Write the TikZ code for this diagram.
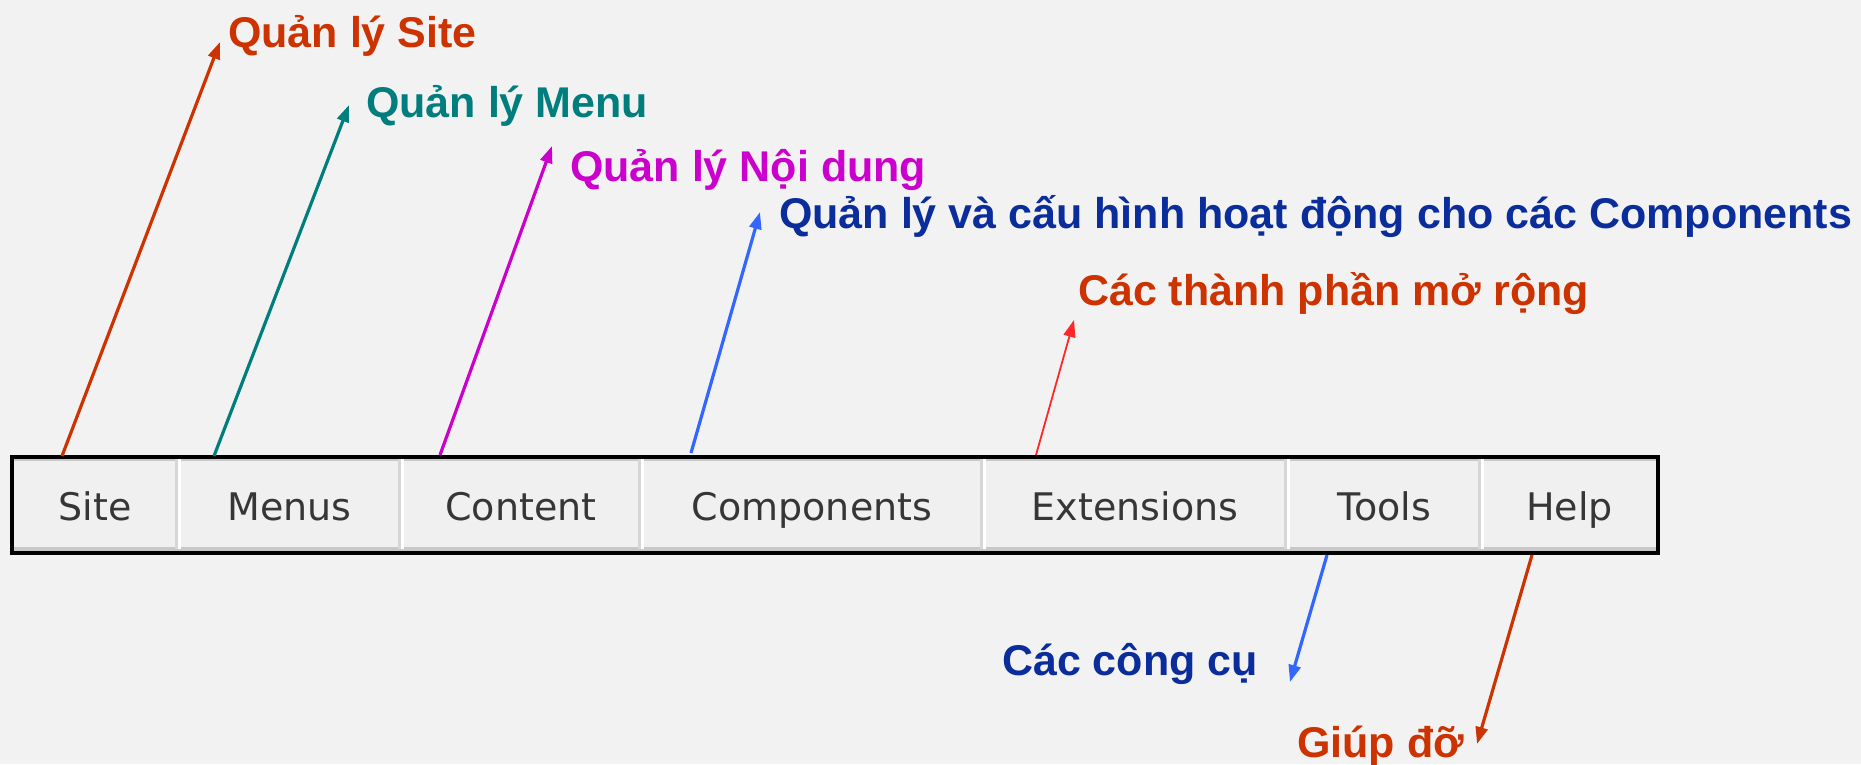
\documentclass[tikz,border=0pt]{standalone}
\usepackage{fontspec}
\usetikzlibrary{arrows.meta}
\newfontfamily\labfont{Liberation Sans}
\newfontfamily\menufont{DejaVu Sans}
\definecolor{bgc}{HTML}{F2F2F2}
\definecolor{cellc}{HTML}{F0F0F0}
\definecolor{bandc}{HTML}{C8C8C8}
\definecolor{sepc}{HTML}{D6D6D6}
\definecolor{menutxt}{HTML}{363636}
\definecolor{orred}{RGB}{204,51,0}
\definecolor{tealc}{RGB}{0,125,125}
\definecolor{magc}{RGB}{204,0,204}
\definecolor{dblue}{RGB}{10,45,155}
\definecolor{lblue}{RGB}{51,102,255}
\definecolor{redc}{RGB}{255,40,40}
\tikzset{
  cell/.style={inner sep=0, minimum height=96pt, text height=38pt, text depth=8pt,
    font=\menufont\fontsize{38}{44}\selectfont, text=menutxt},
  lab/.style={inner sep=0, anchor=base west, font=\labfont\bfseries\fontsize{43}{50}\selectfont},
  arr/.style={line width=3.2pt, -{Triangle[length=17pt,width=12pt]}},
}
\begin{document}
\begin{tikzpicture}[x=1pt,y=-1pt]
\useasboundingbox (0,0) rectangle (1861,764);
\fill[bgc] (0,0) rectangle (1861,764);
% menu bar
\fill[cellc] (12,457) rectangle (1658,553);
\fill[bandc] (12,457) rectangle (1658,461);
\fill[bandc] (12,547) rectangle (1658,553);
\foreach \sx in {178,401,641,983,1287,1481}{
  \draw[sepc, line width=2.5pt] (\sx-1.5,459) -- (\sx-1.5,549);
  \draw[white, line width=2.5pt] (\sx+1.5,459) -- (\sx+1.5,549);
}
\draw[black, line width=3.5pt] (12,457) rectangle (1658,553);
% cells
\node[cell, minimum width=166pt] (site) at (95,505) {Site};
\node[cell, minimum width=223pt] (menus) at (289.5,505) {Menus};
\node[cell, minimum width=240pt] (content) at (521,505) {Content};
\node[cell, minimum width=342pt] (components) at (812,505) {Components};
\node[cell, minimum width=304pt] (extensions) at (1135,505) {Extensions};
\node[cell, minimum width=194pt] (tools) at (1384,505) {Tools};
\node[cell, minimum width=177pt] (help) at (1569.5,505) {Help};
% labels
\node[lab, text=orred] (l1) at (228,47) {Quản lý Site};
\node[lab, text=tealc] (l2) at (366,117) {Quản lý Menu};
\node[lab, text=magc] (l3) at (570,181) {Quản lý Nội dung};
\node[lab, text=dblue] (l4) at (779,228) {Quản lý và cấu hình hoạt động cho các Components};
\node[lab, text=orred] (l5) at (1078,305) {Các thành phần mở rộng};
\node[lab, text=dblue] (l6) at (1002,675) {Các công cụ};
\node[lab, text=orred] (l7) at (1297,757) {Giúp đỡ};
% connector ends
\coordinate (s1) at (62,456);
\coordinate (s2) at (214,456);
\coordinate (s3) at (440,455);
\coordinate (s4) at (691,453);
\coordinate (s5) at (1036,455);
\coordinate (s6) at (1327,555);
\coordinate (s7) at (1532,555);
\coordinate (t1) at ([shift={(-8,-5)}]l1.base west);
\coordinate (t2) at ([shift={(-17,-12)}]l2.base west);
\coordinate (t3) at ([shift={(-18,-35)}]l3.base west);
\coordinate (t4) at ([shift={(-19,-16)}]l4.base west);
\coordinate (t5) at ([shift={(-4,15)}]l5.base west);
\coordinate (t6) at ([shift={(288,7)}]l6.base west);
\coordinate (t7) at ([shift={(180,-13)}]l7.base west);
% connectors
\draw[arr, orred] (s1) -- (t1);
\draw[arr, tealc] (s2) -- (t2);
\draw[arr, magc] (s3) -- (t3);
\draw[arr, lblue] (s4) -- (t4);
\draw[arr, redc, line width=1.8pt] (s5) -- (t5);
\draw[arr, lblue] (s6) -- (t6);
\draw[arr, orred] (s7) -- (t7);
\end{tikzpicture}
\end{document}
